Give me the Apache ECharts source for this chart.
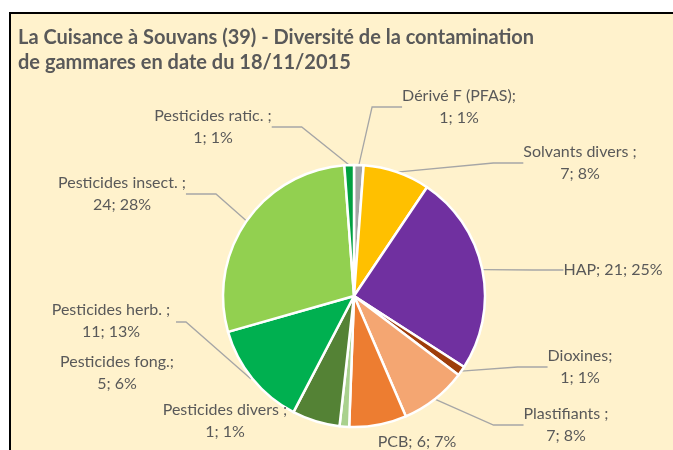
<!DOCTYPE html>
<html><head><meta charset="utf-8">
<script src="https://cdn.jsdelivr.net/npm/echarts@6/dist/echarts.min.js"></script>
<style>html,body{margin:0;padding:0;background:#fff}#c{width:673px;height:450px}</style>
</head><body><div id="c"></div>
<script>
const categories = ['Dérivé F (PFAS)', 'Solvants divers', 'HAP', 'Dioxines', 'Plastifiants', 'PCB', 'Pesticides divers', 'Pesticides fong.', 'Pesticides herb.', 'Pesticides insect.', 'Pesticides ratic.'];
const values = [1, 7, 21, 1, 7, 6, 1, 5, 11, 24, 1];
const separators = [';', ' ;', ';', ';', ' ;', ';', ' ;', ';', ' ;', ' ;', ' ;'];
const singleLine = [false, false, true, false, false, true, false, false, false, false, false];
const showLine = [true, true, true, true, true, false, false, false, true, true, true];
const colors = ['#A5A5A5', '#FFC000', '#7030A0', '#9E3D0A', '#F4A672', '#ED7D31', '#A9D18E', '#548235', '#00B050', '#92D050', '#00A040'];
const labelPos = [[459,107],[580,163],[613,270],[580,367],[566,425],[417,442],[225,421],[117,373],[111,321],[122,194],[213,127]];

const total = values.reduce((a,b)=>a+b,0);
const chart = echarts.init(document.getElementById('c'));
chart.setOption({
  backgroundColor: '#fff',
  animation: false,
  graphic: [{type:'rect', z:-10, shape:{x:10,y:13,width:700,height:500}, style:{fill:'#FFF2CC', stroke:'#000', lineWidth:2}}],
  title: {
    text: 'La Cuisance à Souvans (39) - Diversité de la contamination\nde gammares en date du 18/11/2015',
    left: 13, top: 20,
    textStyle: {fontFamily:'Lato', fontWeight:'bold', fontSize:20, color:'#595959', lineHeight:25}
  },
  series: [{
    type: 'pie',
    center: [354, 296],
    radius: 131,
    startAngle: 90,
    clockwise: true,
    data: categories.map((n,i)=>({name:n, value:values[i], itemStyle:{color:colors[i]}, labelLine:{show:showLine[i]}})),
    itemStyle: {borderColor:'#fff', borderWidth:2.5},
    label: {
      show: true,
      fontFamily: 'Lato', fontSize: 16, color: '#595959', lineHeight: 22, align:'center',
      formatter: p => {
        const i = p.dataIndex;
        const pct = Math.round(values[i]/total*100);
        return categories[i] + separators[i] + (singleLine[i] ? ' ' : '\n') + values[i] + '; ' + pct + '%';
      }
    },
    labelLine: {show:true, lineStyle:{color:'#A6A6A6', width:1.3}},
    labelLayout: p => {
      const i = p.dataIndex;
      const o = {x: labelPos[i][0], y: labelPos[i][1], align:'center', verticalAlign:'middle'};
      if (i === 8) o.labelLinePoints = [[176,322],[186,322],[251,379]];
      return o;
    }
  }]
});
</script></body></html>
